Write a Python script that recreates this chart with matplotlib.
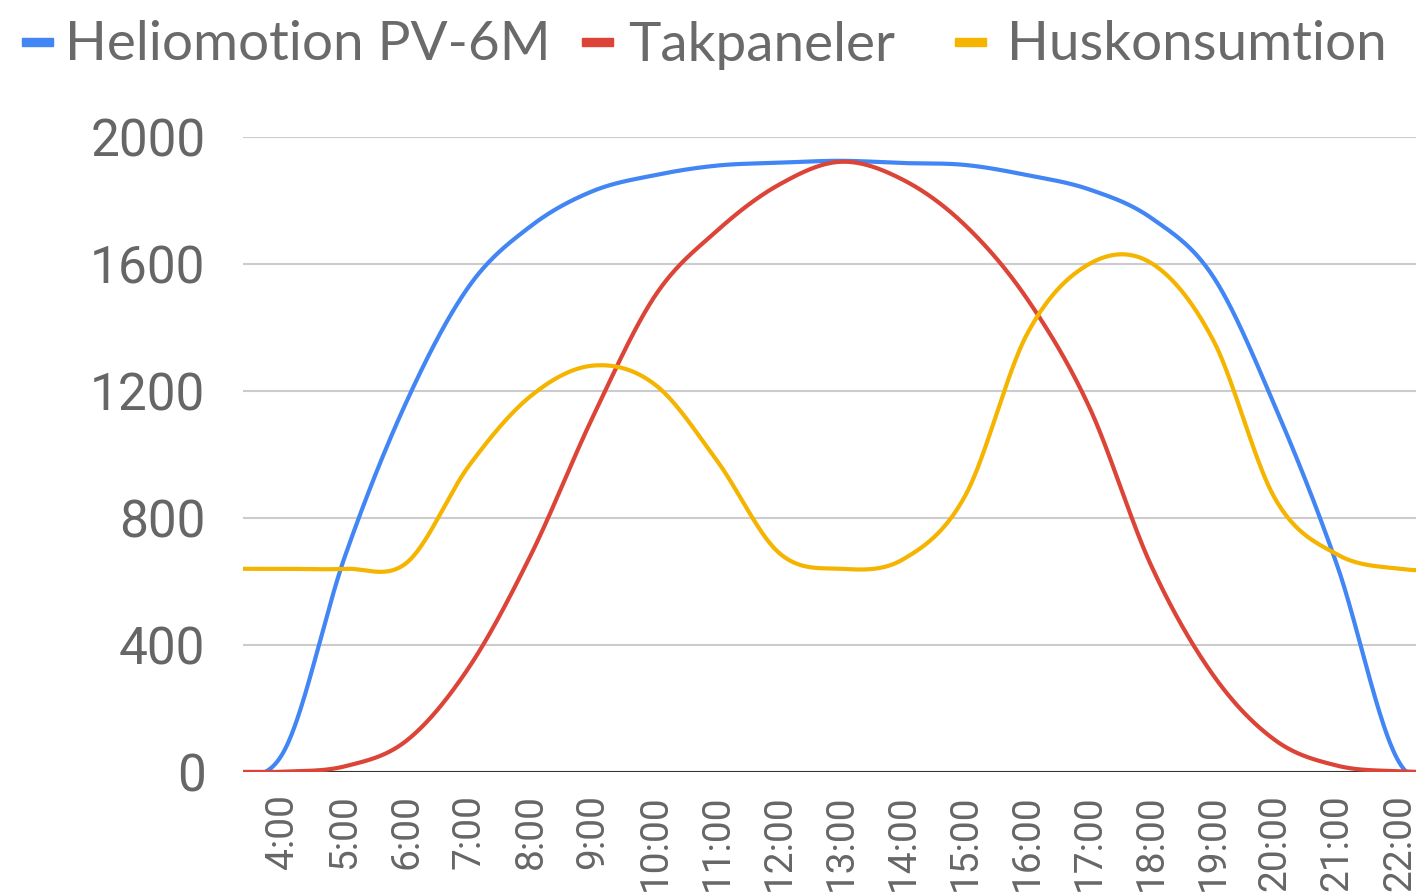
import numpy as np
import matplotlib
matplotlib.use("Agg")
import matplotlib.pyplot as plt
from matplotlib.patches import Rectangle

# hourly values
hours = [3, 4, 5, 6, 7, 8, 9, 10, 11, 12, 13,
         14, 15, 16, 17, 18, 19, 20, 21, 22, 23]

heliomotion = [0, 60, 680, 1170, 1530, 1720, 1830, 1880, 1910, 1919, 1925,
               1918, 1912, 1880, 1835, 1745, 1560, 1150, 650, 30, 0]

takpaneler = [0, 1, 18, 100, 330, 685, 1120, 1500, 1705, 1850, 1922,
              1865, 1722, 1490, 1150, 650, 305, 100, 20, 2, 0]

huskonsumtion = [640, 640, 640, 660, 965, 1185, 1280, 1220, 980, 690, 640,
                 670, 870, 1380, 1600, 1603, 1360, 860, 685, 640, 635]

tick_hours = [4, 5, 6, 7, 8, 9, 10, 11, 12, 13, 14, 15, 16, 17, 18, 19, 20, 21, 22]
tick_labels = [f"{h}:00" for h in tick_hours]
y_ticks = [0, 400, 800, 1200, 1600, 2000]

series = [("Heliomotion PV-6M", heliomotion, "#4285F4"),
          ("Takpaneler", takpaneler, "#DB4437"),
          ("Huskonsumtion", huskonsumtion, "#F4B400")]


def smooth(x, y, steps=60):
    # catmull-rom curve through the points, like the sheets "smooth" option
    x = np.asarray(x, float)
    y = np.asarray(y, float)
    yp = np.concatenate([[y[0]], y, [y[-1]]])
    t = np.linspace(0, 1, steps, endpoint=False)
    xs, ys = [], []
    for i in range(len(x) - 1):
        p0, p1, p2, p3 = yp[i], yp[i + 1], yp[i + 2], yp[i + 3]
        seg = 0.5 * (2 * p1 + (-p0 + p2) * t
                     + (2 * p0 - 5 * p1 + 4 * p2 - p3) * t ** 2
                     + (-p0 + 3 * p1 - 3 * p2 + p3) * t ** 3)
        xs.append(x[i] + (x[i + 1] - x[i]) * t)
        ys.append(seg)
    xs.append([x[-1]])
    ys.append([y[-1]])
    # power can't go below zero, so keep the spline from dipping under the axis
    return np.concatenate(xs), np.maximum(np.concatenate(ys), 0)


W, H = 1416, 896
fig = plt.figure(figsize=(W / 100, H / 100), dpi=100)
ax = fig.add_axes([243 / W, 1 - 772 / H, (W - 243) / W, (772 - 137) / H])

for name, vals, color in series:
    sx, sy = smooth(hours, vals)
    ax.plot(sx, sy, color=color, lw=3.0, solid_capstyle="round", zorder=3)

ax.set_xlim(3.355, 22.27)
ax.set_ylim(0, 2000)
ax.set_yticks(y_ticks)
ax.set_xticks(tick_hours)
ax.set_xticklabels(tick_labels, rotation=90, ha="center", va="top",
                   family="Roboto", fontsize=28, color="#666666")
ax.set_yticklabels([str(v) for v in y_ticks], family="Roboto",
                   fontsize=37, color="#666666")
ax.tick_params(axis="both", length=0)
ax.tick_params(axis="y", pad=27)
ax.tick_params(axis="x", pad=16)
ax.grid(axis="y", color="#cccccc", lw=1.5)
ax.set_axisbelow(True)
for s in ax.spines.values():
    s.set_visible(False)
ax.axhline(0, color="#333333", lw=2.2, zorder=2)

# legend along the top
legend_x = [(22, 65), (582, 628), (955, 1007)]
for (mx, tx), (name, vals, color) in zip(legend_x, series):
    fig.patches.append(Rectangle((mx / W, 1 - 46 / H), 31 / W, 8 / H,
                                 transform=fig.transFigure, color=color))
    fig.text(tx / W, 1 - 45 / H, name, family="Lato",
             fontsize=39.5, color="#6a6a6a", va="center", ha="left")

fig.savefig("out.png", dpi=100, facecolor="white")
